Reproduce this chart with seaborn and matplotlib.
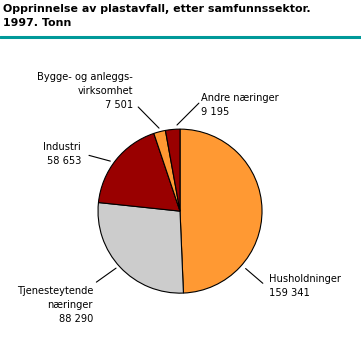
import numpy as np
import matplotlib
matplotlib.use('Agg')
import matplotlib.pyplot as plt
import seaborn as sns

# Data: plastic waste by sector, 1997 (tonnes)
sectors = ['Husholdninger', 'Tjenesteytende\nnæringer', 'Industri',
           'Bygge- og anleggs-\nvirksomhet', 'Andre næringer']
values = [159341, 88290, 58653, 7501, 9195]
value_labels = ['159 341', '88 290', '58 653', '7 501', '9 195']
colors = ['#FF9933', '#CCCCCC', '#990000', '#FF9933', '#990000']

sns.set_theme(style='white')
plt.rcParams['font.family'] = ['DejaVu Sans']
plt.rcParams['text.color'] = 'black'

fig = plt.figure(figsize=(3.61, 3.61), dpi=100)

# Title and teal rule
fig.text(0.008, 0.988, 'Opprinnelse av plastavfall, etter samfunnssektor.\n1997. Tonn',
         ha='left', va='top', fontsize=7.9, fontweight='bold', linespacing=1.4)
fig.add_artist(plt.Line2D([0, 1], [0.897, 0.897], color='#009999', linewidth=2.2))

ax = fig.add_axes([0.2715, 0.188, 0.4543, 0.4543])
wedges, _ = ax.pie(values, colors=colors, startangle=90, counterclock=False,
                   wedgeprops={'edgecolor': 'black', 'linewidth': 0.8})
ax.set_xlim(-1, 1)
ax.set_ylim(-1, 1)
ax.set_aspect('equal')
ax.axis('off')

# leader line (start, end) and text anchor, in pie radius units
layout = [
    ((0.80, -0.70), (1.01, -0.88), (1.085, -0.915), 'left'),
    ((-0.78, -0.695), (-1.02, -0.866), (-1.06, -1.146), 'right'),
    ((-0.85, 0.61), (-1.11, 0.68), (-1.207, 0.695), 'right'),
    ((-0.256, 1.012), (-0.51, 1.27), (-0.573, 1.463), 'right'),
    ((-0.037, 1.05), (0.23, 1.317), (0.256, 1.30), 'left'),
]

for name, val, (p0, p1, pt, ha) in zip(sectors, value_labels, layout):
    ax.plot([p0[0], p1[0]], [p0[1], p1[1]], color='black', linewidth=0.8, clip_on=False)
    ax.text(pt[0], pt[1], f'{name}\n{val}', ha=ha, va='center', color='black',
            fontsize=7.1, linespacing=1.5, multialignment=ha, clip_on=False)

plt.savefig('out.png', dpi=100)
